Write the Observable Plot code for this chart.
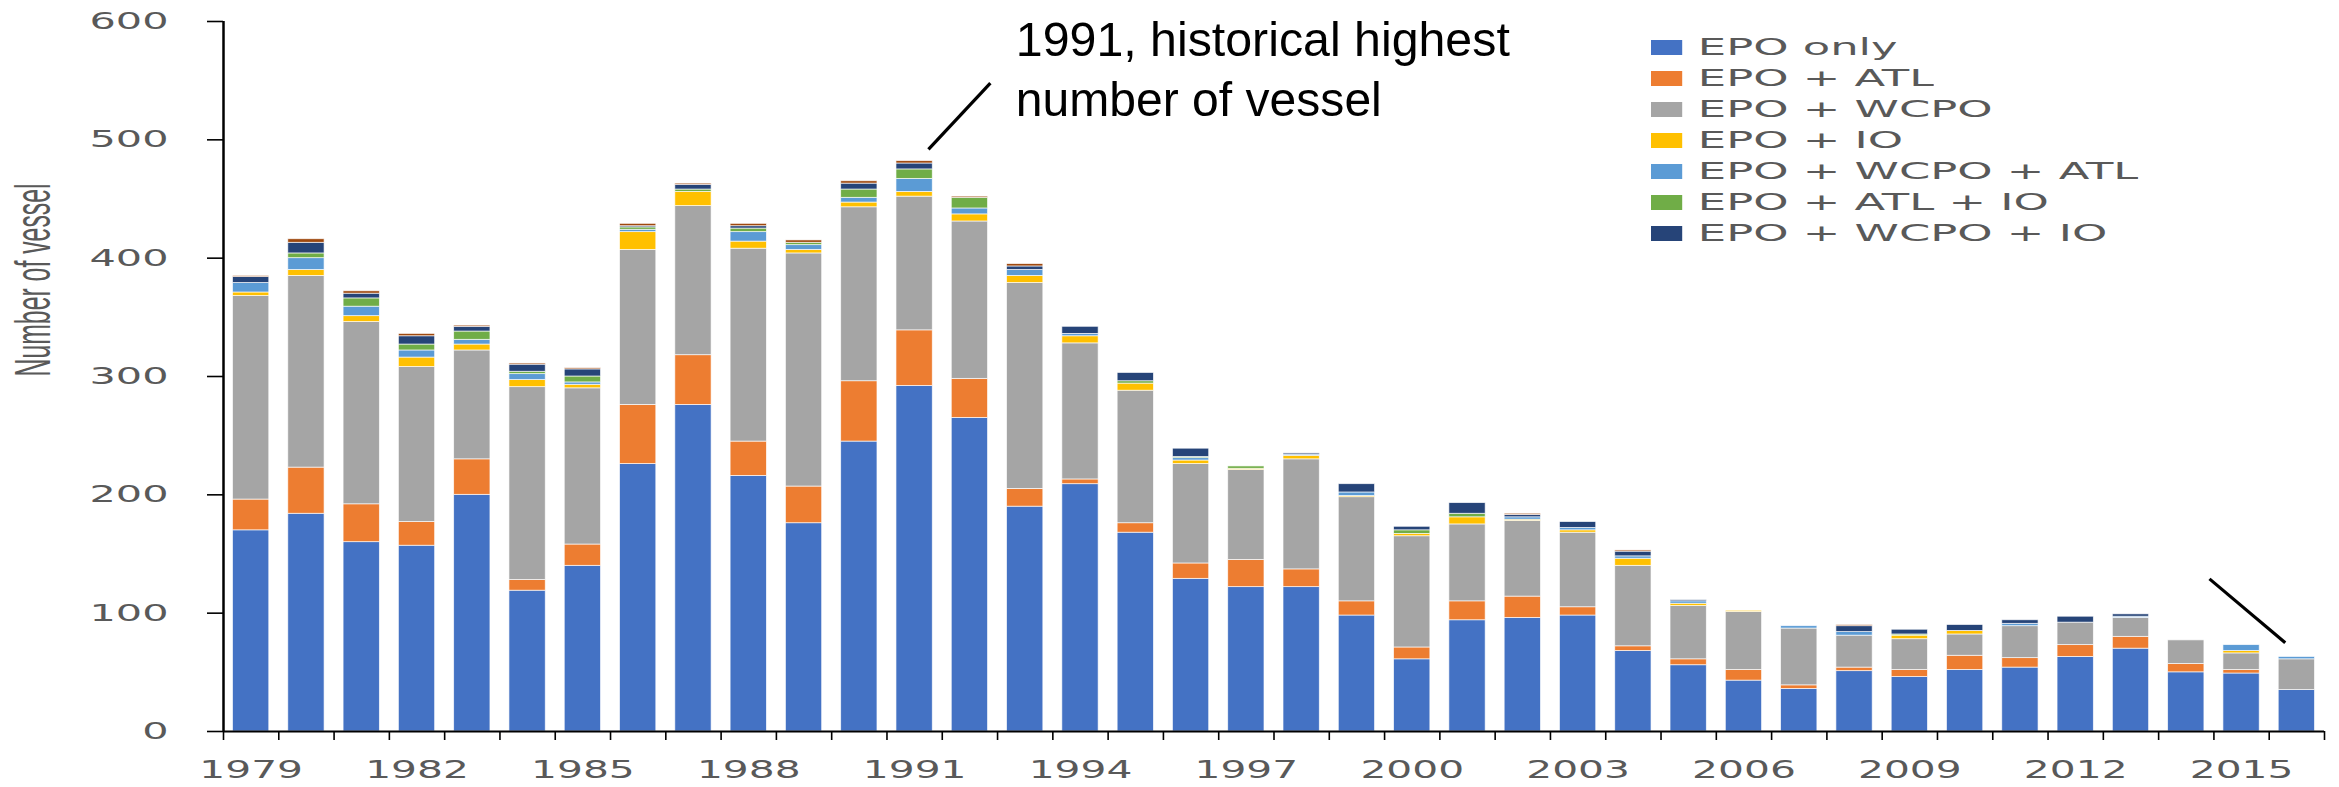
<!DOCTYPE html>
<html><head><meta charset="utf-8">
<script src="https://cdn.jsdelivr.net/npm/d3@7"></script>
<script src="https://cdn.jsdelivr.net/npm/@observablehq/plot@0.6"></script>
<style>
html,body{margin:0;padding:0;background:#fff;}
#wrap{position:relative;width:2339px;height:787px;overflow:hidden;}
#legend{position:absolute;left:1651px;top:32px;transform:scaleX(1.95);transform-origin:0 0;}
#legend .lg-swatch{height:30px;display:flex;align-items:center;}
#legend .lg-swatch svg{margin-right:8px !important;}
</style></head><body><div id="wrap"><div id="legend"></div></div>
<script>
const years = [1979,1980,1981,1982,1983,1984,1985,1986,1987,1988,1989,1990,1991,1992,1993,1994,1995,1996,1997,1998,1999,2000,2001,2002,2003,2004,2005,2006,2007,2008,2009,2010,2011,2012,2013,2014,2015,2016];
const epoOnly    = [170,184,160,157,200,119,140,226,276,216,176,245,292,265,190,209,168,129,122,122,98,61,94,96,98,68,56,43,36,51,46,52,54,63,70,50,49,35];
const epoAtl     = [26,39,32,20,30,9,18,50,42,29,31,51,47,33,15,4,8,13,23,15,12,10,16,18,7,4,5,9,3,3,6,12,8,10,10,7,3,0];
const epoWcpo    = [172,162,154,131,92,163,132,131,126,163,197,147,113,133,174,115,112,84,76,93,88,94,65,64,63,68,45,49,48,27,26,18,27,19,16,20,14,26];
const epoIo      = [3,5,5,8,5,6,3,15,12,6,3,4,4,6,6,6,6,3,1,3,1,2,6,1,2,6,2,1,0,0,3,3,0,0,0,0,2,0];
const epoWcpoAtl = [8,10,8,6,4,5,2,2,0,8,4,4,11,5,5,2,0,2,0,1,3,0,0,2,2,2,2,0,2,3,0,0,2,0,1,0,5,2];
const epoAtlIo   = [0,4,7,5,7,2,5,2,2,3,2,7,8,9,0,0,2,1,2,0,0,3,3,0,0,0,0,0,0,0,1,0,0,0,0,0,0,0];
const epoWcpoIo  = [5,9,4,7,4,6,6,1,4,2,0,5,5,0,3,6,7,7,0,1,7,3,9,2,5,4,1,0,0,5,4,5,3,5,2,0,0,0];
const otherCombo = [1,3,2,2,1,1,1,2,1,2,2,2,2,1,2,0,0,0,0,0,0,0,0,1,0,1,0,0,0,1,0,0,0,0,0,0,0,0];

const seriesNames  = ["EPO only","EPO + ATL","EPO + WCPO","EPO + IO","EPO + WCPO + ATL","EPO + ATL + IO","EPO + WCPO + IO","Other"];
const seriesColors = ["#4472C4","#ED7D31","#A5A5A5","#FFC000","#5B9BD5","#70AD47","#264478","#9E480E"];
const seriesValues = [epoOnly, epoAtl, epoWcpo, epoIo, epoWcpoAtl, epoAtlIo, epoWcpoIo, otherCombo];
const legendNames  = seriesNames.slice(0, 7);
const legendColors = seriesColors.slice(0, 7);

const yTicks = [0,100,200,300,400,500,600];
const xLabelYears = [1979,1982,1985,1988,1991,1994,1997,2000,2003,2006,2009,2012,2015];
const yLabel = "Number of vessel";

const annotLine1 = "1991, historical highest";
const annotLine2 = "number of vessel";
const annotText = [annotLine1 + "\n" + annotLine2];
const annotX = [1992.83];
const annotY = [607];
const annotLines = [
  {x1: 1991.25, y1: 492, x2: 1992.37, y2: 548},
  {x1: 2014.42, y1: 129, x2: 2015.79, y2: 75}
];

const table = [];
seriesNames.forEach((s, si) => {
  years.forEach((yr, yi) => {
    const v = seriesValues[si][yi];
    if (v > 0) table.push({year: yr, x1: yr - 0.5, x2: yr + 0.5, series: s, value: v});
  });
});
const xMin = years[0] - 0.5, xMax = years[years.length - 1] + 0.5;
const boundaries = years.map(y => y - 0.5).concat([xMax]);

const chart = Plot.plot({
  width: 2339, height: 787,
  marginLeft: 223, marginRight: 15, marginTop: 21, marginBottom: 56,
  x: {type: "linear", domain: [xMin, xMax]},
  y: {domain: [0, 600]},
  color: {domain: seriesNames, range: seriesColors},
  style: {fontFamily: "DejaVu Sans", background: "#fff"},
  marks: [
    Plot.rectY(table, {x1: "x1", x2: "x2", y: "value", fill: "series", insetLeft: 9.5, insetRight: 9.5, stroke: "white", strokeWidth: 0.8, strokeOpacity: 0.8}),
    Plot.axisY({ticks: yTicks, tickSize: 16, tickPadding: 39, fontSize: 23, stroke: "black", strokeWidth: 1.6, fill: "#595959", label: null, tickFormat: d => String(d)}),
    Plot.axisX({ticks: xLabelYears, tickSize: 0, tickPadding: 29, fontSize: 25, fill: "#595959", label: null, tickFormat: d => String(d)}),
    Plot.axisX({ticks: boundaries, tickSize: 9, stroke: "black", strokeWidth: 1.6, tickFormat: () => "", label: null}),
    Plot.ruleY([0], {stroke: "black", strokeWidth: 2}),
    Plot.ruleX([xMin], {stroke: "black", strokeWidth: 2.5}),
    Plot.text([yLabel], {text: d => d, frameAnchor: "left", rotate: -90, dx: -189, fontSize: 26, fill: "#595959", fontFamily: "Liberation Sans", lineAnchor: "middle"}),
    Plot.text(annotText, {x: (d, i) => annotX[i], y: (d, i) => annotY[i], text: d => d, textAnchor: "start", lineAnchor: "top", fontSize: 48, lineHeight: 1.25, fill: "black", fontFamily: "Liberation Sans"}),
    Plot.link(annotLines, {x1: "x1", y1: "y1", x2: "x2", y2: "y2", stroke: "black", strokeWidth: 3.2})
  ]
});
document.getElementById("wrap").prepend(chart);

const svg = d3.select(chart);
svg.selectAll('[aria-label="y-axis tick label"] text').each(function() {
  const L = this.getComputedTextLength();
  this.setAttribute("textLength", L * 1.8);
  this.setAttribute("lengthAdjust", "spacingAndGlyphs");
});
svg.selectAll('[aria-label="x-axis tick label"] text').each(function() {
  const L = this.getComputedTextLength();
  if (L > 0) { this.setAttribute("textLength", L * 1.63); this.setAttribute("lengthAdjust", "spacingAndGlyphs"); }
});
svg.selectAll("text").each(function() {
  if (this.textContent === yLabel) {
    this.setAttribute("textLength", 193);
    this.setAttribute("lengthAdjust", "spacingAndGlyphs");
    const t = this.getAttribute("transform") || "";
    this.setAttribute("transform", t + " scale(1,1.9)");
  }
});
svg.selectAll("text tspan").each(function() {
  if (this.textContent === annotLine1) {
    this.setAttribute("textLength", 494);
    this.setAttribute("lengthAdjust", "spacingAndGlyphs");
  }
  if (this.textContent === annotLine2) {
    this.setAttribute("textLength", 366);
    this.setAttribute("lengthAdjust", "spacingAndGlyphs");
  }
});

const legend = Plot.legend({
  legend: "swatches",
  color: {domain: legendNames, range: legendColors},
  columns: 1,
  swatchWidth: 16, swatchHeight: 15,
  className: "lg",
  style: {fontFamily: "DejaVu Sans", fontSize: "23px", color: "#595959"}
});
document.getElementById("legend").appendChild(legend);
</script>
</body></html>
